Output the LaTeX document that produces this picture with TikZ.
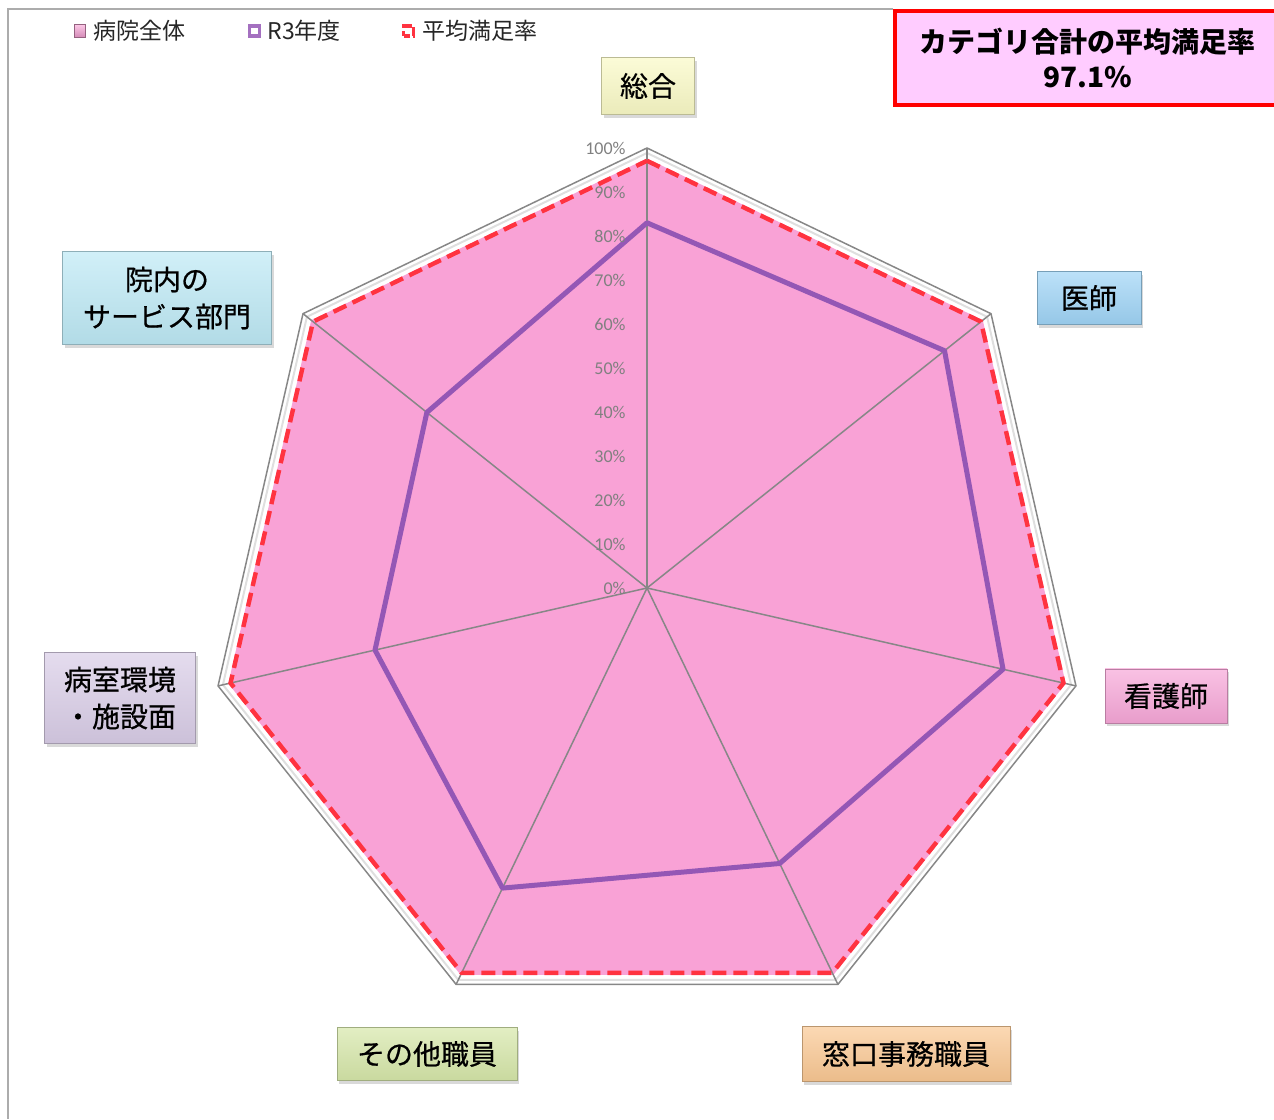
\documentclass[tikz,border=0pt]{standalone}
\usepackage{fontspec}
\setmainfont{Noto Sans CJK JP}
\newfontfamily\tickfont{Carlito}
\usetikzlibrary{shadows}

\definecolor{radarpink}{HTML}{F9A2D6}
\definecolor{radarpurple}{HTML}{9457B5}
\definecolor{avgred}{HTML}{FF3340}
\definecolor{gridgray}{HTML}{878787}
\definecolor{sogoyellow}{HTML}{FAFAC6}
\definecolor{ishiblue}{HTML}{9FD4F6}
\definecolor{kangopink}{HTML}{F7A7D8}
\definecolor{madoorange}{HTML}{FAC893}
\definecolor{sonotagreen}{HTML}{D6E7A9}
\definecolor{byoshitsulilac}{HTML}{D9CDE7}
\definecolor{innaicyan}{HTML}{BDE9F5}
\definecolor{titlepink}{HTML}{FFCCFF}

\tikzset{
	spoke/.style={draw=gridgray, line width=0.75pt},
	catbox/.style={draw=#1!75!black, line width=0.4pt, top color=#1!70!white, middle color=#1, bottom color=#1!94!black,
		drop shadow={shadow xshift=1.2pt, shadow yshift=-1.6pt, opacity=0.3}, align=center, inner sep=0pt,
		font=\fontsize{14}{18.5}\selectfont\addfontfeature{FakeBold=0.6}},
	ticklabel/.style={font=\tickfont\fontsize{9}{10}\selectfont, text=black!50, anchor=east, inner sep=0pt},
	legtext/.style={font=\fontsize{11.5}{13}\selectfont, text=black!85, anchor=west, inner sep=0pt},
}

\begin{document}
\begin{tikzpicture}[x=0.5pt,y=0.5pt]
	\useasboundingbox (0,0) rectangle (1274,1119);
	% outer frame
	\draw[gray!65, line width=1pt] (8,0) -- (8,1110) -- (893,1110);
	% legend
	\node[draw=radarpink!60!black, top color=radarpink!60!white, bottom color=radarpink!85!black, minimum width=5.5pt, minimum height=6.5pt, inner sep=0pt] (lgzentai) at (79.5,1088) {};
	\node[legtext] (lgzentaitxt) at (93,1088) {病院全体};
	\node[draw=radarpurple!85!white, line width=1.6pt, minimum size=5pt, inner sep=0pt] (lgr3) at (254.5,1088) {};
	\node[legtext] (lgr3txt) at (267,1088) {R3年度};
	\node[draw=avgred, line width=1.6pt, dash pattern=on 5pt off 1.5pt, dash phase=2pt, minimum size=5pt, inner sep=0pt] (lgavg) at (408.5,1088) {};
	\node[legtext] (lgavgtxt) at (422,1088) {平均満足率};
	% radar
	\begin{scope}[shift={(647,531)}]
		\coordinate (o) at (0,0);
		\coordinate (v0) at (90:440);
		\coordinate (v1) at (38.571:440);
		\coordinate (v2) at (-12.857:440);
		\coordinate (v3) at (-64.286:440);
		\coordinate (v4) at (-115.714:440);
		\coordinate (v5) at (-167.143:440);
		\coordinate (v6) at (141.429:440);
		\draw[gray!25, line width=1pt] (90:435) -- (38.571:435) -- (-12.857:435) -- (-64.286:435) -- (-115.714:435) -- (-167.143:435) -- (141.429:435) -- cycle;
		\fill[radarpink] (90:429.5) -- (38.571:429.5) -- (-12.857:429.5) -- (-64.286:429.5) -- (-115.714:429.5) -- (-167.143:429.5) -- (141.429:429.5) -- cycle;
		\draw[spoke] (v0) -- (v1) -- (v2) -- (v3) -- (v4) -- (v5) -- (v6) -- cycle;
		\draw[spoke] (o) -- (v0);
		\draw[spoke] (o) -- (v1);
		\draw[spoke] (o) -- (v2);
		\draw[spoke] (o) -- (v3);
		\draw[spoke] (o) -- (v4);
		\draw[spoke] (o) -- (v5);
		\draw[spoke] (o) -- (v6);
		\draw[radarpurple, line width=2.5pt, line join=round] (90:365.2) -- (38.571:380.6) -- (-12.857:365.2) -- (-64.286:305.8) -- (-115.714:333.1) -- (-167.143:279) -- (141.429:281.6) -- cycle;
		\draw[avgred, line width=2.2pt, dash pattern=on 7pt off 3.5pt] (90:427.2) -- (38.571:427.2) -- (-12.857:427.2) -- (-64.286:427.2) -- (-115.714:427.2) -- (-167.143:427.2) -- (141.429:427.2) -- cycle;
		\node[ticklabel] (t0) at (-21,0) {0\%};
		\node[ticklabel] (t1) at (-21,44) {10\%};
		\node[ticklabel] (t2) at (-21,88) {20\%};
		\node[ticklabel] (t3) at (-21,132) {30\%};
		\node[ticklabel] (t4) at (-21,176) {40\%};
		\node[ticklabel] (t5) at (-21,220) {50\%};
		\node[ticklabel] (t6) at (-21,264) {60\%};
		\node[ticklabel] (t7) at (-21,308) {70\%};
		\node[ticklabel] (t8) at (-21,352) {80\%};
		\node[ticklabel] (t9) at (-21,396) {90\%};
		\node[ticklabel] (t10) at (-21,440) {100\%};
	\end{scope}
	% category labels
	\node[catbox=sogoyellow, minimum width=46.5pt, minimum height=28.5pt] (sogo) at (648,1033) {総合};
	\node[catbox=ishiblue, minimum width=52pt, minimum height=26.5pt] (ishi) at (1089,821) {医師};
	\node[catbox=kangopink, minimum width=61pt, minimum height=27pt] (kango) at (1166,423) {看護師};
	\node[catbox=madoorange, minimum width=104pt, minimum height=27.5pt] (mado) at (906,65) {窓口事務職員};
	\node[catbox=sonotagreen, minimum width=90pt, minimum height=26.5pt] (sonota) at (427,65) {その他職員};
	\node[catbox=byoshitsulilac, minimum width=75.5pt, minimum height=45.5pt] (byoshitsu) at (120,421) {病室環境\\・施設面};
	\node[catbox=innaicyan, minimum width=104.5pt, minimum height=46.5pt] (innai) at (167,821) {院内の\\サービス部門};
	% average box
	\node[draw=red, line width=2pt, fill=titlepink, minimum width=192.5pt, minimum height=47pt, anchor=north west, align=center, inner sep=0pt,
		font=\bfseries\fontsize{14}{17.5}\selectfont] (avg) at (893,1110) {カテゴリ合計の平均満足率\\97.1\%};
\end{tikzpicture}
\end{document}
